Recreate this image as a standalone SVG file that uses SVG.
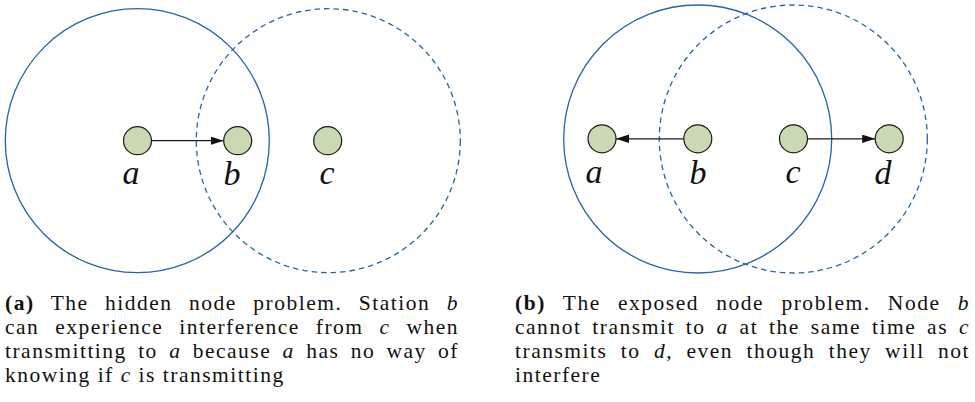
<svg xmlns="http://www.w3.org/2000/svg" width="975" height="402" viewBox="0 0 975 402">
<style>
.range{fill:none;stroke:#2563ae;stroke-width:1.3}
.dash{stroke-dasharray:5.5 4}
.node{fill:#c9d9b3;stroke:#1a1a1a;stroke-width:1.2}
.edge{stroke:#1a1a1a;stroke-width:1.3;fill:none}
.lbl{font-family:"Liberation Serif",serif;font-style:italic;font-size:34px;fill:#111;text-anchor:middle}
.cap{font-family:"Liberation Serif",serif;font-size:21.5px;letter-spacing:1.5px;fill:#111}
.b{font-weight:bold}
.i{font-style:italic}
</style>
<defs>
<marker id="ah" markerUnits="userSpaceOnUse" markerWidth="14" markerHeight="10" refX="13" refY="4.2" orient="auto">
<path d="M0,0 L13,4.2 L0,8.4 z" fill="#111"/>
</marker>
</defs>
<g id="ranges">
<circle class="range" cx="137.3" cy="140.7" r="132"/>
<circle class="range dash" cx="328.3" cy="140.7" r="132"/>
<circle class="range" cx="697.7" cy="139" r="134"/>
<circle class="range dash" cx="793.3" cy="139" r="134"/>
</g>
<g id="connectors">
<line class="edge" x1="151.5" y1="140.7" x2="223.5" y2="140.7" marker-end="url(#ah)"/>
<line class="edge" x1="683.8" y1="138.8" x2="616" y2="138.8" marker-end="url(#ah)"/>
<line class="edge" x1="807.5" y1="138.8" x2="875.2" y2="138.8" marker-end="url(#ah)"/>
</g>
<g id="node-a1"><circle class="node" cx="137.5" cy="140.7" r="14"/><text class="lbl" x="131" y="184">a</text></g>
<g id="node-b1"><circle class="node" cx="237.7" cy="140.7" r="14"/><text class="lbl" x="232" y="185">b</text></g>
<g id="node-c1"><circle class="node" cx="327.7" cy="140.7" r="14"/><text class="lbl" x="327" y="184">c</text></g>
<g id="node-a2"><circle class="node" cx="602" cy="138.8" r="14"/><text class="lbl" x="594" y="183">a</text></g>
<g id="node-b2"><circle class="node" cx="697.8" cy="138.8" r="14"/><text class="lbl" x="698" y="184">b</text></g>
<g id="node-c2"><circle class="node" cx="793.5" cy="138.8" r="14"/><text class="lbl" x="793" y="183">c</text></g>
<g id="node-d2"><circle class="node" cx="889.2" cy="138.8" r="14"/><text class="lbl" x="883" y="184">d</text></g>
<g id="caption-a" class="cap">
<text x="5" y="310" word-spacing="9.6" textLength="454" lengthAdjust="spacing"><tspan class="b">(a)</tspan> The hidden node problem. Station <tspan class="i">b</tspan></text>
<text x="5" y="334" word-spacing="9.1" textLength="454" lengthAdjust="spacing">can experience interference from <tspan class="i">c</tspan> when</text>
<text x="5" y="358" word-spacing="4.5" textLength="454" lengthAdjust="spacing">transmitting to <tspan class="i">a</tspan> because <tspan class="i">a</tspan> has no way of</text>
<text x="5" y="382">knowing if <tspan class="i">c</tspan> is transmitting</text>
</g>
<g id="caption-b" class="cap">
<text x="515" y="310" word-spacing="10.4" textLength="455" lengthAdjust="spacing"><tspan class="b">(b)</tspan> The exposed node problem. Node <tspan class="i">b</tspan></text>
<text x="515" y="334" word-spacing="4" textLength="455" lengthAdjust="spacing">cannot transmit to <tspan class="i">a</tspan> at the same time as <tspan class="i">c</tspan></text>
<text x="515" y="358" word-spacing="6.5" textLength="455" lengthAdjust="spacing">transmits to <tspan class="i">d</tspan>, even though they will not</text>
<text x="515" y="382">interfere</text>
</g>
</svg>
